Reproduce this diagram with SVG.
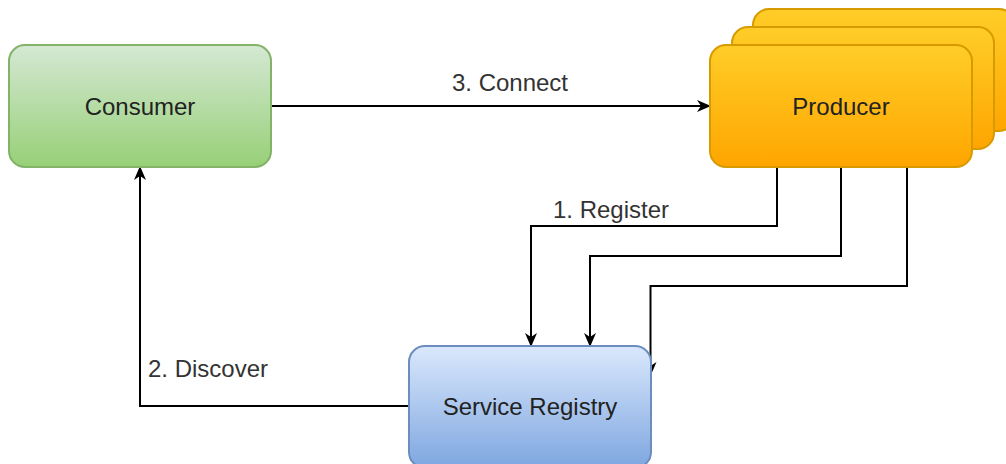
<svg xmlns="http://www.w3.org/2000/svg" width="1006" height="464" viewBox="0 0 1006 464">
  <defs>
    <linearGradient id="gGreen" x1="0" y1="0" x2="0" y2="1">
      <stop offset="0" stop-color="#d5e8d4"/>
      <stop offset="1" stop-color="#97d077"/>
    </linearGradient>
    <linearGradient id="gOrange" x1="0" y1="0" x2="0" y2="1">
      <stop offset="0" stop-color="#ffcd28"/>
      <stop offset="1" stop-color="#ffa500"/>
    </linearGradient>
    <linearGradient id="gBlue" x1="0" y1="0" x2="0" y2="1">
      <stop offset="0" stop-color="#dae8fc"/>
      <stop offset="1" stop-color="#7ea6e0"/>
    </linearGradient>
    <marker id="arrow" viewBox="0 0 14 12" refX="13" refY="6" markerWidth="14" markerHeight="12" markerUnits="userSpaceOnUse" orient="auto">
      <path d="M0,0 L14,6 L0,12 L4,6 Z" fill="#000"/>
    </marker>
  </defs>
  <style>
    .edge { fill: none; stroke: #000; stroke-width: 2; marker-end: url(#arrow); }
    .label { font-family: "Liberation Sans", Arial, sans-serif; font-size: 24px; fill: #333; }
    .title { font-family: "Liberation Sans", Arial, sans-serif; font-size: 24px; fill: #222; text-anchor: middle; }
    .green { fill: url(#gGreen); stroke: #82b366; stroke-width: 2; }
    .orange { fill: url(#gOrange); stroke: #d79b00; stroke-width: 2; }
    .blue { fill: url(#gBlue); stroke: #6c8ebf; stroke-width: 2; }
  </style>

  <rect width="1006" height="464" fill="#fff"/>

  <g id="connectors">
    <path class="edge" d="M271,106 L710,106"/>
    <path class="edge" d="M777,167 L777,226 L531,226 L531,346"/>
    <path class="edge" d="M841,167 L841,256 L590,256 L590,346"/>
    <path class="edge" d="M907,167 L907,286 L650.5,286 L650.5,375"/>
    <path class="edge" d="M409,406 L140,406 L140,167"/>
    <text class="label" x="510" y="91" text-anchor="middle">3. Connect</text>
    <text class="label" x="611" y="218" text-anchor="middle">1. Register</text>
    <text class="label" x="148" y="377">2. Discover</text>
  </g>

  <g id="consumer">
    <rect class="green" x="9" y="45" width="262" height="122" rx="16" ry="16"/>
    <text class="title" x="140" y="115">Consumer</text>
  </g>

  <g id="producer">
    <rect class="orange" x="753" y="9" width="262" height="122" rx="16" ry="16"/>
    <rect class="orange" x="732" y="27" width="262" height="122" rx="16" ry="16"/>
    <rect class="orange" x="710" y="45" width="262" height="122" rx="16" ry="16"/>
    <text class="title" x="841" y="115">Producer</text>
  </g>

  <g id="service-registry">
    <rect class="blue" x="409" y="346" width="242" height="122" rx="16" ry="16"/>
    <text class="title" x="530" y="415">Service Registry</text>
  </g>
</svg>
